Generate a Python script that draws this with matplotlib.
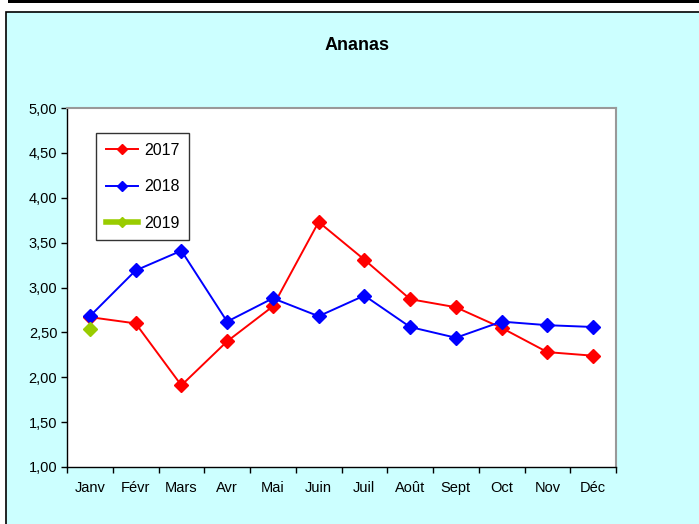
import numpy as np
import matplotlib
matplotlib.use('Agg')
import matplotlib.pyplot as plt
from matplotlib.patches import Rectangle

plt.rcParams['font.family'] = ['Liberation Sans', 'DejaVu Sans']

# ==========================================
# DATA
# ==========================================
months = ['Janv', 'Févr', 'Mars', 'Avr', 'Mai', 'Juin',
          'Juil', 'Août', 'Sept', 'Oct', 'Nov', 'Déc']
prix_2017 = [2.67, 2.60, 1.91, 2.40, 2.79, 3.73, 3.31, 2.87, 2.78, 2.55, 2.28, 2.24]
prix_2018 = [2.68, 3.19, 3.41, 2.62, 2.88, 2.68, 2.91, 2.56, 2.44, 2.62, 2.58, 2.56]
prix_2019 = [2.54]
y_ticks = [1.0, 1.5, 2.0, 2.5, 3.0, 3.5, 4.0, 4.5, 5.0]

W, H = 699, 524
fig = plt.figure(figsize=(W / 100, H / 100), dpi=100)
fig.patch.set_facecolor('white')

# top black band and cyan chart frame (behind the axes)
fig.patches.append(Rectangle((8 / W, 1 - 3 / H), 1, 3 / H,
                             transform=fig.transFigure, facecolor='black',
                             edgecolor='none', zorder=-10))
fig.patches.append(Rectangle((6 / W, -0.01), 1.0, 1 - 11.5 / H + 0.01,
                             transform=fig.transFigure, facecolor='#CCFFFF',
                             edgecolor='black', linewidth=1.2, zorder=-10))

ax = fig.add_axes([67 / W, 1 - 467 / H, (616 - 67) / W, (467 - 108) / H])
ax.set_zorder(1)
ax.set_facecolor('white')

x = np.arange(len(months))
ax.plot(x, prix_2017, color='#FF0000', lw=1.4, marker='D', ms=7,
        label='2017', zorder=3)
ax.plot(x, prix_2018, color='#0000FF', lw=1.4, marker='D', ms=7,
        label='2018', zorder=4)
ax.plot(x[:len(prix_2019)], prix_2019, color='#99CC00', lw=4, marker='D',
        ms=7, label='2019', zorder=5)

ax.set_xlim(-0.5, len(months) - 0.5)
ax.set_ylim(1, 5)
ax.set_yticks(y_ticks)
ax.set_yticklabels([f'{v:.2f}'.replace('.', ',') for v in y_ticks], fontsize=10.5)

# ticks at category boundaries, labels at centres
ax.set_xticks(np.arange(-0.5, len(months), 1.0))
ax.set_xticklabels([])
ax.set_xticks(x, minor=True)
ax.set_xticklabels(months, minor=True, fontsize=10.5)
ax.tick_params(axis='x', which='major', direction='out', length=4, width=1)
ax.tick_params(axis='x', which='minor', length=0, pad=10)
ax.tick_params(axis='y', direction='out', length=4, width=1, pad=3)

for side in ['top', 'right']:
    ax.spines[side].set_color('#999999')
    ax.spines[side].set_linewidth(1.5)
for side in ['left', 'bottom']:
    ax.spines[side].set_color('black')
    ax.spines[side].set_linewidth(1)

leg = ax.legend(loc='upper left', bbox_to_anchor=(0.053, 0.930),
                borderaxespad=0, fancybox=False, frameon=True,
                edgecolor='black', fontsize=11.5, labelspacing=1.35,
                handlelength=2.0, handletextpad=0.4, borderpad=0.6,
                markerscale=0.8)
leg.get_frame().set_linewidth(1)

fig.text(357 / W, 1 - 46 / H, 'Ananas', ha='center', va='center',
         fontsize=13, fontweight='bold')

plt.savefig('out.png', dpi=100)
plt.close()
